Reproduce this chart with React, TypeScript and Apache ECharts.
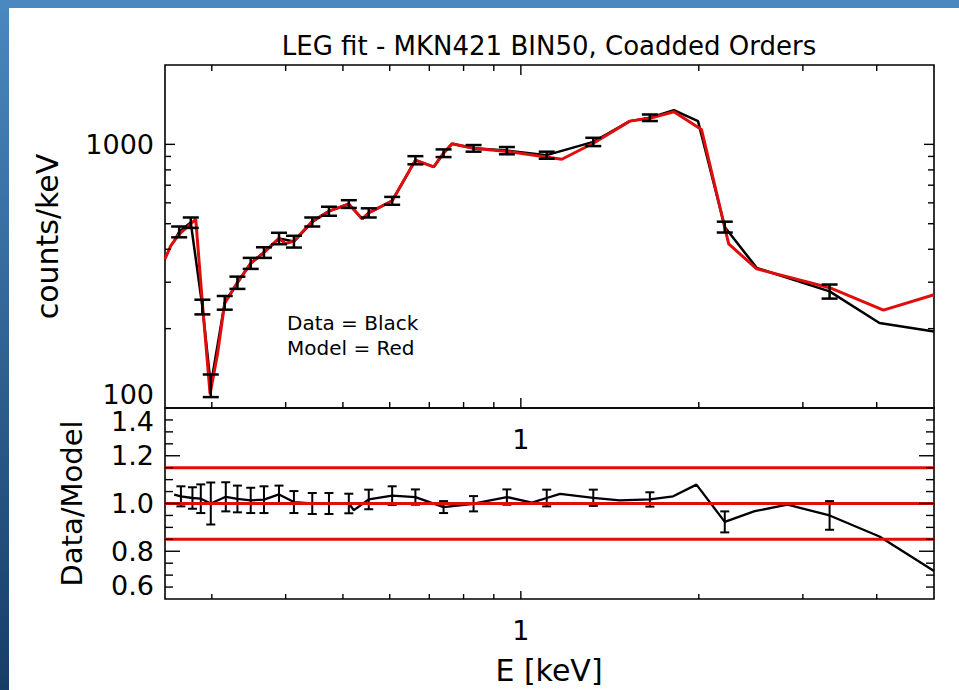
import React, { useEffect, useRef } from 'react';
import * as echarts from 'echarts';

// ---------- text ----------
const TITLE = 'LEG fit - MKN421 BIN50, Coadded Orders';
const Y_TOP_NAME = 'counts/keV';
const Y_BOTTOM_NAME = 'Data/Model';
const X_NAME = 'E [keV]';
const NOTE_DATA = 'Data = Black';
const NOTE_MODEL = 'Model = Red';

// ---------- data ----------
// Data (black) : energy [keV], counts/keV, 1-sigma error (null = no bar drawn)
const energyData = [0.259, 0.2642, 0.2764, 0.2892, 0.2988, 0.3155, 0.3315, 0.3491, 0.3676, 0.3898, 0.4131, 0.4437, 0.4735, 0.5116, 0.539, 0.5529, 0.6057, 0.6631, 0.712, 0.74, 0.7647, 0.8317, 0.947, 1.106, 1.326, 1.529, 1.653, 1.815, 1.994, 2.213, 2.506, 3.329, 4.043, 5.0];
const countsData = [430, 466, 505, 242, 122, 251, 299, 354, 389, 440, 428, 508, 558, 594, 521, 550, 611, 871, 821, 926, 1005, 966, 947, 910, 1022, 1225, 1262, 1348, 1225, 486, 340, 277, 210, 195];
const countsErr = [null, 22, 23, 15.5, 12, 15, 16, 17, 18, 22, 22, 20, 22, 20, null, 22, 21, 31, null, 31, null, 28, 30, 28, 37, null, 36, null, null, 23, null, 17, null, null];

// Model (red)
const energyModel = [0.25, 0.2558, 0.2642, 0.2764, 0.2818, 0.2892, 0.298, 0.3067, 0.3155, 0.3315, 0.3491, 0.3676, 0.3898, 0.4, 0.4131, 0.4437, 0.4735, 0.5116, 0.539, 0.5529, 0.6057, 0.6631, 0.712, 0.74, 0.7647, 0.8317, 0.947, 1.173, 1.326, 1.529, 1.653, 1.815, 2.021, 2.247, 2.506, 3.329, 4.106, 5.0];
const countsModel = [368, 413, 457, 499, 521, 250, 113, 160, 250, 299, 354, 389, 440, 420, 430, 511, 558, 594, 521, 550, 611, 871, 821, 926, 1005, 966, 940, 878, 1010, 1225, 1255, 1330, 1139, 419, 337, 286, 235, 269];

// Ratio (Data/Model)
const energyRatio = [0.2591, 0.266, 0.2782, 0.2874, 0.2988, 0.3168, 0.3315, 0.3491, 0.3676, 0.3898, 0.4131, 0.4437, 0.4735, 0.5116, 0.5218, 0.5529, 0.6057, 0.6631, 0.74, 0.8317, 0.947, 1.0437, 1.106, 1.165, 1.326, 1.47, 1.653, 1.81, 1.982, 2.213, 2.487, 2.826, 3.329, 4.043, 5.0];
const ratioValues = [1.037, 1.03, 1.023, 1.02, 1.0, 1.028, 1.019, 1.013, 1.016, 1.038, 1.006, 1.0, 1.0, 1.0, 0.972, 1.017, 1.033, 1.027, 0.985, 0.999, 1.027, 1.004, 1.023, 1.04, 1.024, 1.013, 1.017, 1.03, 1.079, 0.923, 0.968, 0.995, 0.95, 0.862, 0.717];
const ratioErr = [null, 0.042, 0.045, 0.06, 0.088, 0.061, 0.056, 0.053, 0.056, 0.037, 0.046, 0.044, 0.044, 0.041, null, 0.041, 0.039, 0.032, 0.025, 0.032, 0.032, null, 0.035, null, 0.034, null, 0.03, null, null, 0.044, null, null, 0.06, null, null];

// Reference levels in the ratio panel
const refLevels = [0.85, 1.0, 1.15];

// Axis ranges & ticks
const X_RANGE = [0.25, 5];
const Y_TOP_RANGE = [100, 2000];
const Y_BOTTOM_RANGE = [0.6, 1.4];
const xMinorTicks = [0.3, 0.4, 0.5, 0.6, 0.7, 0.8, 0.9, 2, 3, 4];
const xMajorTicks = [1];
const xTickLabels = ['1'];
const yTopMinorTicks = [200, 300, 400, 500, 600, 700, 800, 900];
const yTopMajorTicks = [1000];
const yTopTickLabels = ['100', '1000'];
const yBottomMinorTicks = [0.65, 0.7, 0.75, 0.85, 0.9, 0.95, 1.05, 1.1, 1.15, 1.25, 1.3, 1.35];
const yBottomMajorTicks = [0.8, 1.0, 1.2];

// ---------- style ----------
const FONT = '"DejaVu Sans", "Liberation Sans", sans-serif';
const RED = '#e00d0d';
const BLACK = '#000000';

const near = (a: number, b: number) => Math.abs(a - b) < 1e-6 * Math.max(1, Math.abs(b));

function xTickRenderer(edges: string[]) {
  return (params: any, api: any) => {
    const cs = params.coordSys;
    const p = api.coord([api.value(0), api.value(1)]);
    const len = api.value(2);
    const st = { stroke: BLACK, lineWidth: 1.4 };
    const children: any[] = [];
    if (edges.indexOf('top') >= 0) children.push({ type: 'line', shape: { x1: p[0], y1: cs.y, x2: p[0], y2: cs.y + len }, style: st });
    if (edges.indexOf('bottom') >= 0) children.push({ type: 'line', shape: { x1: p[0], y1: cs.y + cs.height, x2: p[0], y2: cs.y + cs.height - len }, style: st });
    return { type: 'group', children };
  };
}

function yTickRenderer(params: any, api: any) {
  const cs = params.coordSys;
  const p = api.coord([api.value(0), api.value(1)]);
  const len = api.value(2);
  const st = { stroke: BLACK, lineWidth: 1.4 };
  return {
    type: 'group',
    children: [
      { type: 'line', shape: { x1: cs.x, y1: p[1], x2: cs.x + len, y2: p[1] }, style: st },
      { type: 'line', shape: { x1: cs.x + cs.width, y1: p[1], x2: cs.x + cs.width - len, y2: p[1] }, style: st },
    ],
  };
}

function errRenderer(capHalf: number, lw: number) {
  return (params: any, api: any) => {
    const e = api.value(0);
    const v = api.value(1);
    const err = api.value(2);
    const hi = api.coord([e, v + err]);
    const lo = api.coord([e, v - err]);
    const st = { stroke: BLACK, lineWidth: lw };
    return {
      type: 'group',
      children: [
        { type: 'line', shape: { x1: hi[0], y1: hi[1], x2: lo[0], y2: lo[1] }, style: st },
        { type: 'line', shape: { x1: hi[0] - capHalf, y1: hi[1], x2: hi[0] + capHalf, y2: hi[1] }, style: st },
        { type: 'line', shape: { x1: lo[0] - capHalf, y1: lo[1], x2: lo[0] + capHalf, y2: lo[1] }, style: st },
      ],
    };
  };
}

function hLineRenderer(params: any, api: any) {
  const cs = params.coordSys;
  const p = api.coord([api.value(0), api.value(1)]);
  return {
    type: 'line',
    shape: { x1: cs.x, y1: p[1], x2: cs.x + cs.width, y2: p[1] },
    style: { stroke: RED, lineWidth: 3 },
  };
}

function buildOption() {
  const dataLine = energyData.map((e, i) => [e, countsData[i]]);
  const modelLine = energyModel.map((e, i) => [e, countsModel[i]]);
  const dataErr = energyData.map((e, i) => [e, countsData[i], countsErr[i]]).filter((d) => d[2] != null);
  const ratioLine = energyRatio.map((e, i) => [e, ratioValues[i]]);
  const ratioErrData = energyRatio.map((e, i) => [e, ratioValues[i], ratioErr[i]]).filter((d) => d[2] != null);

  const xTicksTop = [...xMinorTicks.map((v) => [v, Y_TOP_RANGE[0], 6]), ...xMajorTicks.map((v) => [v, Y_TOP_RANGE[0], 10])];
  const xTicksBottom = [...xMinorTicks.map((v) => [v, 1, 5]), ...xMajorTicks.map((v) => [v, 1, 8])];
  const yTicksTop = [...yTopMinorTicks.map((v) => [1, v, 6]), ...yTopMajorTicks.map((v) => [1, v, 10])];
  const yTicksBottom = [...yBottomMinorTicks.map((v) => [1, v, 8]), ...yBottomMajorTicks.map((v) => [1, v, 15])];

  const labelBase = { fontSize: 27, fontFamily: FONT, color: BLACK };

  const xAxisCommon = {
    type: 'log',
    logBase: 10,
    min: X_RANGE[0],
    max: X_RANGE[1],
    axisLine: { show: false },
    axisTick: { show: false },
    splitLine: { show: false },
    axisLabel: {
      ...labelBase,
      margin: 18,
      formatter: (v: number) => {
        const i = xMajorTicks.findIndex((t) => near(v, t));
        return i >= 0 ? xTickLabels[i] : '';
      },
    },
  };

  return {
    animation: false,
    backgroundColor: new echarts.graphic.LinearGradient(0, 0, 0, 1, [
      { offset: 0, color: '#4a88bf' },
      { offset: 1, color: '#173d67' },
    ]),
    graphic: [
      { type: 'rect', left: 9, top: 8, shape: { width: 950, height: 682 }, style: { fill: '#ffffff' }, z: -10, silent: true },
      { type: 'text', x: 549, y: 46, z: 10, style: { text: TITLE, fontSize: 26, fontFamily: FONT, fill: BLACK, align: 'center', verticalAlign: 'middle' } },
      { type: 'text', x: 47, y: 236.5, rotation: Math.PI / 2, z: 10, style: { text: Y_TOP_NAME, fontSize: 30, fontFamily: FONT, fill: BLACK, align: 'center', verticalAlign: 'middle' } },
      { type: 'text', x: 72, y: 503.5, rotation: Math.PI / 2, z: 10, style: { text: Y_BOTTOM_NAME, fontSize: 29, fontFamily: FONT, fill: BLACK, align: 'center', verticalAlign: 'middle' } },
      { type: 'text', x: 549, y: 670, z: 10, style: { text: X_NAME, fontSize: 30, fontFamily: FONT, fill: BLACK, align: 'center', verticalAlign: 'middle' } },
      { type: 'text', x: 287, y: 323, z: 10, style: { text: NOTE_DATA, fontSize: 20, fontFamily: FONT, fill: BLACK, align: 'left', verticalAlign: 'middle' } },
      { type: 'text', x: 287, y: 348, z: 10, style: { text: NOTE_MODEL, fontSize: 20, fontFamily: FONT, fill: BLACK, align: 'left', verticalAlign: 'middle' } },
    ],
    grid: [
      { left: 165, top: 65, width: 769, height: 343, show: true, borderColor: BLACK, borderWidth: 1.6, backgroundColor: 'rgba(0,0,0,0)' },
      { left: 165, top: 408, width: 769, height: 191, show: true, borderColor: BLACK, borderWidth: 1.6, backgroundColor: 'rgba(0,0,0,0)' },
    ],
    xAxis: [
      { ...xAxisCommon, gridIndex: 0 },
      { ...xAxisCommon, gridIndex: 1 },
    ],
    yAxis: [
      {
        type: 'log',
        logBase: 10,
        gridIndex: 0,
        min: Y_TOP_RANGE[0],
        max: Y_TOP_RANGE[1],
        axisLine: { show: false },
        axisTick: { show: false },
        splitLine: { show: false },
        axisLabel: {
          ...labelBase,
          margin: 11,
          verticalAlignMinLabel: 'bottom',
          formatter: (v: number) => {
            if (near(v, Y_TOP_RANGE[0])) return yTopTickLabels[0];
            if (near(v, yTopMajorTicks[0])) return yTopTickLabels[1];
            return '';
          },
        },
      },
      {
        type: 'value',
        gridIndex: 1,
        min: Y_BOTTOM_RANGE[0],
        max: Y_BOTTOM_RANGE[1],
        interval: 0.2,
        axisLine: { show: false },
        axisTick: { show: false },
        splitLine: { show: false },
        axisLabel: {
          ...labelBase,
          margin: 11,
          verticalAlignMinLabel: 'bottom',
          verticalAlignMaxLabel: 'top',
          formatter: (v: number) => v.toFixed(1),
        },
      },
    ],
    series: [
      // ticks
      { type: 'custom', name: 'xticks-top', xAxisIndex: 0, yAxisIndex: 0, data: xTicksTop, renderItem: xTickRenderer(['top', 'bottom']), silent: true, z: 20, clip: false },
      { type: 'custom', name: 'yticks-top', xAxisIndex: 0, yAxisIndex: 0, data: yTicksTop, renderItem: yTickRenderer, silent: true, z: 20, clip: false },
      { type: 'custom', name: 'xticks-bottom', xAxisIndex: 1, yAxisIndex: 1, data: xTicksBottom, renderItem: xTickRenderer(['bottom']), silent: true, z: 20, clip: false },
      { type: 'custom', name: 'yticks-bottom', xAxisIndex: 1, yAxisIndex: 1, data: yTicksBottom, renderItem: yTickRenderer, silent: true, z: 20, clip: false },
      // top panel
      { type: 'line', name: 'Data', xAxisIndex: 0, yAxisIndex: 0, data: dataLine, showSymbol: false, symbol: 'none', lineStyle: { color: BLACK, width: 2.5 }, z: 3, clip: true },
      { type: 'line', name: 'Model', xAxisIndex: 0, yAxisIndex: 0, data: modelLine, showSymbol: false, symbol: 'none', lineStyle: { color: RED, width: 3 }, z: 4, clip: true },
      { type: 'custom', name: 'Data errors', xAxisIndex: 0, yAxisIndex: 0, data: dataErr, renderItem: errRenderer(8, 2.5), z: 5, silent: true },
      // bottom panel
      { type: 'line', name: 'Ratio', xAxisIndex: 1, yAxisIndex: 1, data: ratioLine, showSymbol: false, symbol: 'none', lineStyle: { color: BLACK, width: 2.3 }, z: 3, clip: true },
      { type: 'custom', name: 'Ratio errors', xAxisIndex: 1, yAxisIndex: 1, data: ratioErrData, renderItem: errRenderer(4.5, 2), z: 4, silent: true },
      { type: 'custom', name: 'Reference levels', xAxisIndex: 1, yAxisIndex: 1, data: refLevels.map((l) => [1, l]), renderItem: hLineRenderer, z: 6, silent: true },
    ],
  };
}

export default function App() {
  const ref = useRef<HTMLDivElement>(null);
  useEffect(() => {
    if (!ref.current) return;
    const chart = echarts.init(ref.current, null, { renderer: 'svg' });
    chart.setOption(buildOption() as any);
    return () => chart.dispose();
  }, []);
  return <div ref={ref} style={{ position: 'absolute', left: 0, top: 0, width: 959, height: 690 }} />;
}
